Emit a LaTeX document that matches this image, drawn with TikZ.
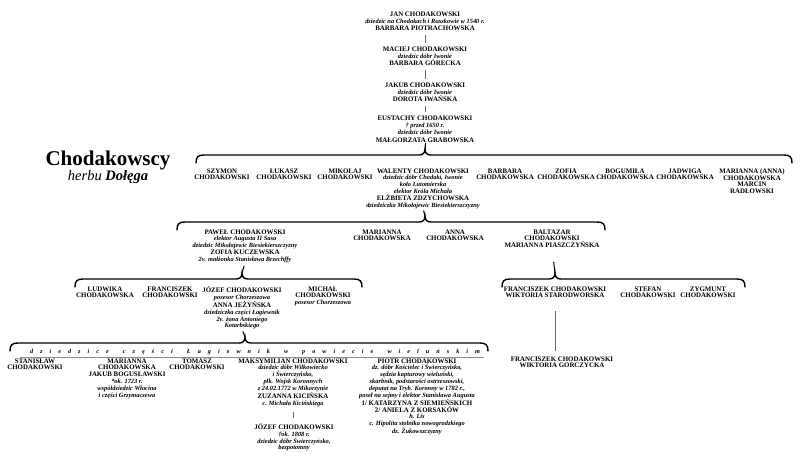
\documentclass[tikz,border=0pt]{standalone}
\usepackage{fontspec}
\setmainfont{Liberation Serif}
\newcommand\pdesc[1]{{\fontsize{6.4}{6.8}\selectfont\bfseries\itshape #1}}
\newcommand\pdlight[1]{{\fontsize{6.4}{6.8}\selectfont\itshape #1}}
% left x, right x, y, tip x
\newcommand\famBrace[4]{%
 \draw[bracestyle] (#1,#3+8) .. controls (#1,#3+2) and (#1+2,#3) .. (#1+8,#3) -- (#4-6,#3)
   .. controls (#4-2,#3) and (#4,#3-2) .. (#4,#3-6)
   .. controls (#4,#3-2) and (#4+2,#3) .. (#4+6,#3) -- (#2-8,#3)
   .. controls (#2-2,#3) and (#2,#3+2) .. (#2,#3+8);}
\tikzset{
  person/.style={font=\fontsize{6.9}{6.8}\selectfont\bfseries, align=center, inner sep=0pt, anchor=north,
     execute at begin node={\rule{0pt}{6pt}}},
  topperson/.style={person, font=\fontsize{6.9}{7.4}\selectfont\bfseries},
  conn/.style={draw=black!60, line width=0.7pt},
  tick/.style={draw=black, line width=1pt},
  bracestyle/.style={draw=black, line width=1.4pt, line cap=round},
}
\begin{document}
\begin{tikzpicture}[x=1pt,y=-1pt]
\useasboundingbox (0,0) rectangle (800,469);

% title
\node[font=\fontsize{21}{24}\selectfont\bfseries, inner sep=0pt] (title) at (108,160) {Chodakowscy};
\node[font=\fontsize{14.5}{16}\selectfont\itshape, inner sep=0pt] (herb) at (108,177) {herbu \textbf{Dołęga}};

% top chain
\node[topperson] (jan) at (425,11.3) {JAN CHODAKOWSKI\\ \pdesc{dziedzic na Chodakach i Ruszkowie w 1540 r.}\\ BARBARA PIOTRACHOWSKA};
\node[topperson] (maciej) at (425,46.3) {MACIEJ CHODAKOWSKI\\ \pdesc{dziedzic dóbr Iwonie}\\ BARBARA GÓRECKA};
\node[topperson] (jakub) at (425,82.3) {JAKUB CHODAKOWSKI\\ \pdesc{dziedzic dóbr Iwonie}\\ DOROTA IWAŃSKA};
\node[topperson] (eustachy) at (425,115.3) {EUSTACHY CHODAKOWSKI\\ \pdesc{† przed 1650 r.}\\ \pdesc{dziedzic dóbr Iwonie}\\ MAŁGORZATA GRABOWSKA};
\draw[conn, shorten <=4pt, shorten >=3pt] (jan) -- (maciej);
\draw[conn, shorten <=4pt, shorten >=3pt] (maciej) -- (jakub);
\draw[conn, shorten <=4pt, shorten >=3pt] (jakub) -- (eustachy);

% row 1
\coordinate (t1) at (425,149);
\famBrace{196}{792}{155}{425}
\draw[tick] (eustachy.south) -- (t1);
\node[person] (szymon) at (222,168.3) {SZYMON\\ CHODAKOWSKI};
\node[person] (lukasz) at (284,168.3) {ŁUKASZ\\ CHODAKOWSKI};
\node[person] (mikolaj) at (345,168.3) {MIKOŁAJ\\ CHODAKOWSKI};
\node[person] (walenty) at (423,168.3) {WALENTY CHODAKOWSKI\\ \pdesc{dziedzic dóbr Chodaki, Iwonie}\\ \pdesc{koło Lutomierska}\\ \pdesc{elektor Króla Michała}\\ ELŻBIETA ZDZYCHOWSKA\\ \pdesc{dziedziczka Mikołajewic Biesiekierszczyzny}};
\node[person] (barbara) at (505,168.3) {BARBARA\\ CHODAKOWSKA};
\node[person] (zofia) at (566,168.3) {ZOFIA\\ CHODAKOWSKA};
\node[person] (bogumila) at (625,168.3) {BOGUMIŁA\\ CHODAKOWSKA};
\node[person] (jadwiga) at (685,168.3) {JADWIGA\\ CHODAKOWSKA};
\node[person] (marianna1) at (752,168.3) {MARIANNA (ANNA)\\ CHODAKOWSKA\\ MARCIN\\ RADŁOWSKI};

% row 2
\coordinate (t2) at (425,216);
\famBrace{177}{605}{222}{425}
\draw[tick, shorten <=2pt] (walenty.south) -- (t2);
\node[person] (pawel) at (245,229.3) {PAWEŁ CHODAKOWSKI\\ \pdesc{elektor Augusta II Sasa}\\ \pdesc{dziedzic Mikołajewic Biesiekierszczyzny}\\ ZOFIA KUCZEWSKA\\ \pdesc{2v. małżonka Stanisława Brzechffy}};
\node[person] (marianna2) at (382,229.3) {MARIANNA\\ CHODAKOWSKA};
\node[person] (anna) at (455,229.3) {ANNA\\ CHODAKOWSKA};
\node[person] (baltazar) at (552,229.3) {BALTAZAR\\ CHODAKOWSKI\\ MARIANNA PIASZCZYŃSKA};

% row 3
\coordinate (t3a) at (242,273);
\coordinate (t3b) at (555,273);
\famBrace{75}{362}{279}{242}
\famBrace{502}{745}{279}{555}
\draw[tick, shorten <=3pt] (pawel.south) -- (t3a);
\draw[tick, shorten <=14pt] (baltazar.south) -- (t3b);
\node[person] (ludwika) at (105,286.3) {LUDWIKA\\ CHODAKOWSKA};
\node[person] (franciszek1) at (170,286.3) {FRANCISZEK\\ CHODAKOWSKI};
\node[person] (jozef1) at (242,286.3) {JÓZEF CHODAKOWSKI\\ \pdesc{posesor Chorzeszowa}\\ ANNA JEŻYŃSKA\\ \pdesc{dziedziczka części Łagiewnik}\\ \pdesc{2v. żona Antoniego}\\ \pdesc{Kotarbskiego}};
\node[person] (michal) at (323,286.3) {MICHAŁ\\ CHODAKOWSKI\\ \pdesc{posesor Chorzeszowa}};
\node[person] (franciszek2) at (555,286.3) {FRANCISZEK CHODAKOWSKI\\ WIKTORIA STARODWORSKA};
\node[person] (stefan) at (648,286.3) {STEFAN\\ CHODAKOWSKI};
\node[person] (zygmunt) at (708,286.3) {ZYGMUNT\\ CHODAKOWSKI};

% row 4
\coordinate (t4) at (245,337);
\famBrace{10}{488}{343}{245}
\draw[tick, shorten <=2pt] (jozef1.south) -- (t4);
\node[inner sep=0pt, font=\fontsize{6.2}{7}\selectfont\bfseries\itshape] (banner) at (255,351.5)
 {\makebox[450pt][s]{d\hfil z\hfil i\hfil e\hfil d\hfil z\hfil i\hfil c\hfil e\hfil\hfil
  c\hfil z\hfil ę\hfil ś\hfil c\hfil i\hfil\hfil
  Ł\hfil a\hfil g\hfil i\hfil e\hfil w\hfil n\hfil i\hfil k\hfil\hfil
  w\hfil\hfil
  p\hfil o\hfil w\hfil i\hfil e\hfil c\hfil i\hfil e\hfil\hfil
  w\hfil i\hfil e\hfil l\hfil u\hfil ń\hfil s\hfil k\hfil i\hfil m}};
\coordinate (ul1) at (20,357);
\coordinate (ul2) at (484,357);
\draw[draw=black!45, line width=0.6pt] (ul1) -- (ul2);

\node[person] (stanislaw) at (35,358.3) {STANISŁAW\\ CHODAKOWSKI};
\node[person] (marianna3) at (127,358.3) {MARIANNA\\ CHODAKOWSKA\\ JAKUB BOGUSŁAWSKI\\ \pdesc{*ok. 1723 r.}\\ \pdesc{współdziedzic Włocina}\\ \pdesc{i części Grzymaczewa}};
\node[person] (tomasz) at (197,358.3) {TOMASZ\\ CHODAKOWSKI};
\node[person] (maksymilian) at (293,358.3) {MAKSYMILIAN CHODAKOWSKI\\ \pdesc{dziedzic dóbr Wilkowiecko}\\ \pdesc{i Świerczyńsko,}\\ \pdesc{płk. Wojsk Koronnych}\\ \pdesc{z 24.02.1772 w Mikorzynie}\\ ZUZANNA KICIŃSKA\\ \pdlight{c. Michała Kicińskiego}};
\node[person] (piotr) at (417,358.3) {PIOTR CHODAKOWSKI\\ \pdesc{dz. dóbr Kościelec i Świerczyńsko,}\\ \pdesc{sędzia kapturowy wieluński,}\\ \pdesc{skarbnik, podstarości ostrzeszowski,}\\ \pdesc{deputat na Tryb. Koronny w 1782 r.,}\\ \pdesc{poseł na sejmy i elektor Stanisława Augusta}\\ 1/ KATARZYNA Z SIEMIEŃSKICH\\ 2/ ANIELA Z KORSAKÓW\\ \pdesc{h. Lis}\\ \pdesc{c. Hipolita stolnika nowogrodzkiego}\\ \pdesc{dz. Żukowszczyzny}};
\node[person] (jozef2) at (294,423.3) {JÓZEF CHODAKOWSKI\\ \pdesc{†ok. 1808 r.}\\ \pdesc{dziedzic dóbr Świerczyńsko,}\\ \pdesc{bezpotomny}};
\draw[conn, shorten <=5pt, shorten >=5pt] (maksymilian.south) -- (maksymilian.south |- jozef2.north);

\node[person] (franciszek3) at (562,356.3) {FRANCISZEK CHODAKOWSKI\\ WIKTORIA GORCZYCKA};
\draw[conn, shorten <=13pt, shorten >=5pt] (franciszek2.south) -- (franciszek2.south |- franciszek3.north);
\end{tikzpicture}
\end{document}
